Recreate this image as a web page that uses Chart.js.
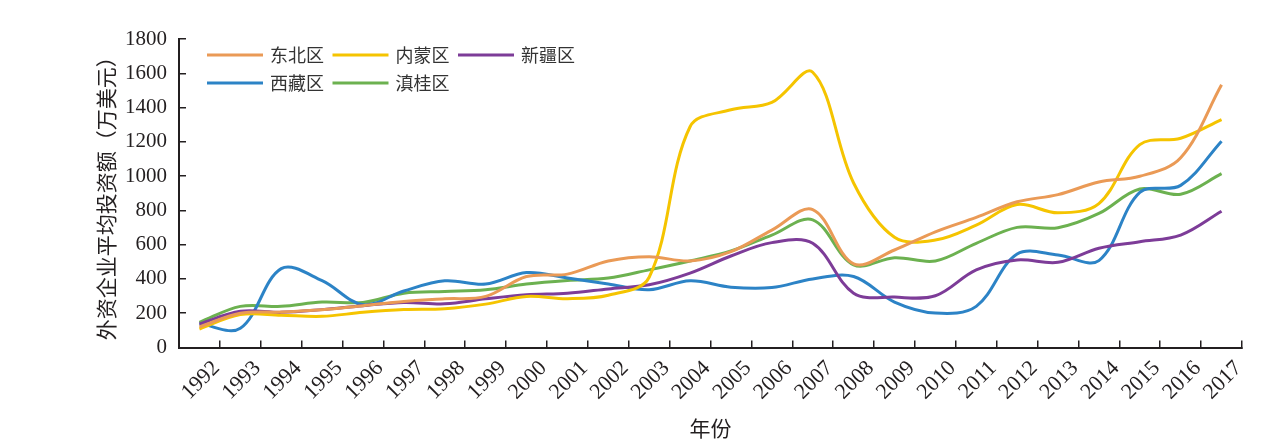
<!DOCTYPE html>
<html>
<head>
<meta charset="utf-8">
<script src="https://cdn.jsdelivr.net/npm/chart.js@4/dist/chart.umd.min.js"></script>
<style>
  html, body { margin: 0; padding: 0; background: #fff; }
  #wrap { width: 1269px; height: 445px; }
</style>
</head>
<body>
<div id="wrap"><canvas id="myChart" width="1269" height="445"></canvas></div>
<script>
// 年份
const years = ['1992', '1993', '1994', '1995', '1996', '1997', '1998', '1999', '2000', '2001', '2002', '2003', '2004',
    '2005', '2006', '2007', '2008', '2009', '2010', '2011', '2012', '2013', '2014', '2015', '2016', '2017'];

// 各区外资企业平均投资额（万美元）
const dongbei = [120, 200, 207, 220, 244, 269, 284, 298, 414, 428, 505, 530, 505, 559, 685, 805,
    488, 569, 675, 759, 850, 892, 966, 999, 1107, 1533];
const neimeng = [108, 192, 188, 182, 205, 221, 226, 253, 298, 285, 305, 410, 1288, 1387, 1430, 1606,
    960, 643, 627, 714, 834, 786, 840, 1184, 1221, 1330];
const xinjiang = [138, 211, 205, 221, 244, 263, 255, 284, 308, 317, 342, 366, 434, 534, 612, 608,
    317, 294, 302, 453, 511, 497, 579, 617, 656, 795];
const xizang = [138, 112, 460, 390, 250, 330, 389, 370, 437, 405, 370, 337, 389, 352, 350, 400,
    414, 265, 201, 240, 545, 540, 507, 905, 946, 1204];
const diangui = [147, 240, 240, 265, 263, 317, 327, 337, 370, 391, 405, 453, 505, 563, 656, 745,
    482, 524, 505, 608, 701, 699, 782, 925, 894, 1014];

const yTicks = [0, 200, 400, 600, 800, 1000, 1200, 1400, 1600, 1800];

const axisColor = '#231f20';
const numFont = 'Liberation Serif';
const cjkFont = 'Noto Sans CJK SC';

function serie(label, data, color) {
    return {
        label: label,
        data: data,
        borderColor: color,
        backgroundColor: color,
        borderWidth: 3,
        pointRadius: 0,
        tension: 0.35,
        fill: false
    };
}

// Legenda desenhada dentro da área do gráfico
const legendaInterna = {
    id: 'legendaInterna',
    afterDraw(chart) {
        const ctx = chart.ctx;
        const area = chart.chartArea;
        ctx.save();
        ctx.font = '18px "' + cjkFont + '"';
        ctx.textBaseline = 'middle';
        ctx.textAlign = 'left';
        chart.data.datasets.forEach((ds, i) => {
            const col = i % 3;
            const row = Math.floor(i / 3);
            const x = area.left + 28 + col * 125.5;
            const y = area.top + 16 + row * 28;
            ctx.strokeStyle = ds.borderColor;
            ctx.lineWidth = 3;
            ctx.beginPath();
            ctx.moveTo(x, y);
            ctx.lineTo(x + 56, y);
            ctx.stroke();
            ctx.fillStyle = '#333';
            ctx.fillText(ds.label, x + 63, y);
        });
        ctx.restore();
    }
};

const ctx = document.getElementById('myChart').getContext('2d');
const myChart = new Chart(ctx, {
    type: 'line',
    data: {
        labels: years,
        datasets: [
            serie('东北区', dongbei, '#EA9A56'),
            serie('内蒙区', neimeng, '#F5C400'),
            serie('新疆区', xinjiang, '#7D3C98'),
            serie('西藏区', xizang, '#2C83C6'),
            serie('滇桂区', diangui, '#6CB150')
        ]
    },
    options: {
        responsive: false,
        animation: false,
        layout: {
            padding: { top: 39, right: 27, bottom: 0, left: 0 }
        },
        plugins: {
            legend: { display: false },
            tooltip: { enabled: false }
        },
        scales: {
            x: {
                offset: true,
                grid: {
                    offset: true,
                    drawOnChartArea: false,
                    drawTicks: true,
                    tickLength: -7,
                    color: axisColor,
                    lineWidth: 1.5
                },
                border: { display: true, color: axisColor, width: 2 },
                ticks: {
                    color: axisColor,
                    font: { family: numFont, size: 22 },
                    minRotation: 45,
                    maxRotation: 45,
                    autoSkip: false,
                    padding: 15,
                    labelOffset: 17
                },
                title: {
                    display: true,
                    text: '年份',
                    color: axisColor,
                    font: { family: cjkFont, size: 21 },
                    padding: { top: 0, bottom: 4 }
                },
                afterFit: function(scale) {
                    scale.height = 97.5;
                }
            },
            y: {
                min: 0,
                max: 1800,
                afterBuildTicks: function(scale) {
                    scale.ticks = yTicks.map(v => ({ value: v }));
                },
                grid: {
                    drawOnChartArea: false,
                    drawTicks: true,
                    tickLength: -7,
                    color: axisColor,
                    lineWidth: 1.5
                },
                border: { display: true, color: axisColor, width: 2 },
                ticks: {
                    color: axisColor,
                    font: { family: numFont, size: 21 },
                    padding: 19,
                    callback: function(value) {
                        return String(value);
                    }
                },
                title: {
                    display: true,
                    text: '外资企业平均投资额（万美元）',
                    color: axisColor,
                    font: { family: cjkFont, size: 21 },
                    padding: { top: 93, bottom: 0 }
                },
                afterFit: function(scale) {
                    scale.width = 179;
                }
            }
        }
    },
    plugins: [legendaInterna]
});
</script>
</body>
</html>
